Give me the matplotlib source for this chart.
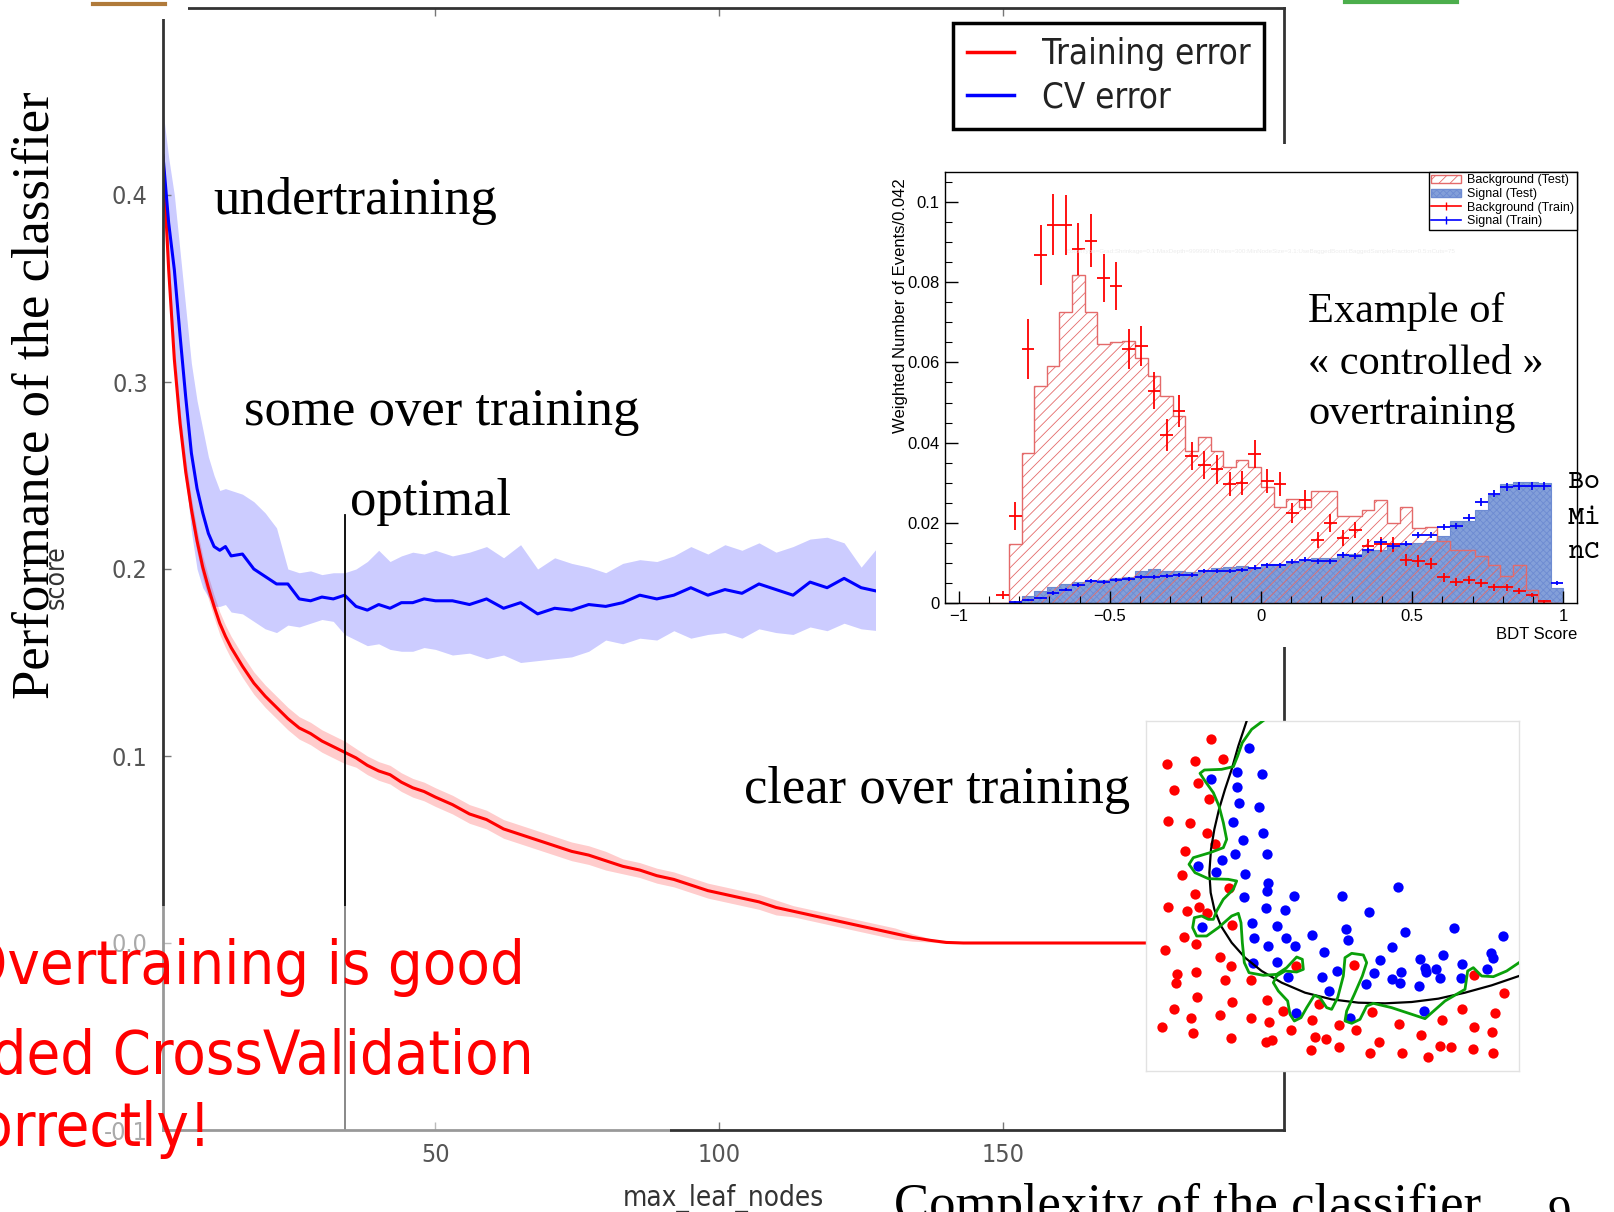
import numpy as np
import matplotlib
matplotlib.use("Agg")
import matplotlib.pyplot as plt
from matplotlib.patches import Rectangle, Patch
from matplotlib.lines import Line2D
from matplotlib.ticker import MultipleLocator

# learning curve: error vs max_leaf_nodes
nodes = [2, 3, 4, 5, 6, 7, 8, 9, 10, 11, 12, 13, 14,
         16, 18, 20, 22, 24, 26, 28, 30, 32, 34, 36, 38, 40, 42, 44, 46, 48, 50,
         53, 56, 59, 62, 65, 68, 71, 74, 77, 80, 83, 86, 89, 92, 95, 98, 101, 104,
         107, 110, 113, 116, 119, 122, 125, 128, 131,
         134, 137, 140, 143, 146,
         150, 155, 160, 165, 170, 175, 180, 185, 190, 195, 200]
train_err = [0.420, 0.360, 0.312, 0.278, 0.252, 0.232, 0.215, 0.201, 0.190, 0.180, 0.171, 0.164, 0.158,
             0.148, 0.139, 0.132, 0.126, 0.120, 0.115, 0.112, 0.108, 0.105, 0.102, 0.099, 0.095, 0.092,
             0.090, 0.086, 0.083, 0.081, 0.078,
             0.074, 0.069, 0.066, 0.061, 0.058, 0.055, 0.052, 0.049, 0.047, 0.044, 0.041, 0.039, 0.036,
             0.034, 0.031, 0.028, 0.026, 0.024, 0.022, 0.019, 0.017, 0.015, 0.013, 0.011, 0.009, 0.007, 0.005,
             0.003, 0.0015, 0.0003, 0.0, 0.0,
             0, 0, 0, 0, 0, 0, 0, 0, 0, 0, 0]
train_std = [0.010, 0.009, 0.008, 0.007, 0.007, 0.006, 0.006, 0.006, 0.006, 0.006, 0.006, 0.006, 0.006,
             0.006, 0.006, 0.006, 0.006, 0.006, 0.006, 0.006, 0.006, 0.006, 0.006, 0.005, 0.005, 0.005,
             0.005, 0.005, 0.005, 0.005, 0.005,
             0.005, 0.005, 0.005, 0.005, 0.005, 0.005, 0.005, 0.005, 0.005, 0.005, 0.004, 0.004, 0.004,
             0.004, 0.004, 0.004, 0.004, 0.004, 0.004, 0.004, 0.003, 0.003, 0.003, 0.003, 0.003, 0.003, 0.003,
             0.002, 0.001, 0.0005, 0, 0,
             0, 0, 0, 0, 0, 0, 0, 0, 0, 0, 0]
cv_err = [0.421, 0.385, 0.360, 0.325, 0.292, 0.262, 0.243, 0.230, 0.219, 0.212, 0.210, 0.212, 0.207,
          0.208, 0.200, 0.196, 0.192, 0.192, 0.184, 0.183, 0.185, 0.184, 0.186, 0.180, 0.178, 0.181,
          0.179, 0.182, 0.182, 0.184, 0.183,
          0.183, 0.181, 0.184, 0.179, 0.182, 0.176, 0.179, 0.178, 0.181, 0.180, 0.182, 0.186, 0.184,
          0.186, 0.190, 0.186, 0.189, 0.187, 0.192, 0.189, 0.186, 0.193, 0.190, 0.195, 0.190, 0.188, 0.192]
cv_hi = [0.445, 0.420, 0.400, 0.370, 0.340, 0.310, 0.290, 0.275, 0.260, 0.250, 0.242, 0.243, 0.242,
         0.240, 0.236, 0.230, 0.222, 0.200, 0.198, 0.199, 0.197, 0.198, 0.198, 0.200, 0.204, 0.210,
         0.204, 0.207, 0.209, 0.208, 0.210,
         0.207, 0.209, 0.212, 0.206, 0.213, 0.200, 0.206, 0.203, 0.201, 0.198, 0.203, 0.205, 0.204,
         0.207, 0.212, 0.208, 0.213, 0.210, 0.214, 0.209, 0.212, 0.216, 0.217, 0.214, 0.201, 0.212, 0.215]
cv_lo = [0.400, 0.350, 0.320, 0.280, 0.250, 0.220, 0.200, 0.190, 0.185, 0.180, 0.180, 0.181, 0.177,
         0.176, 0.172, 0.168, 0.166, 0.170, 0.169, 0.171, 0.173, 0.172, 0.165, 0.162, 0.159, 0.160,
         0.157, 0.156, 0.156, 0.158, 0.157,
         0.154, 0.155, 0.152, 0.154, 0.150, 0.151, 0.152, 0.153, 0.156, 0.162, 0.160, 0.163, 0.162,
         0.167, 0.163, 0.165, 0.166, 0.163, 0.168, 0.166, 0.165, 0.169, 0.167, 0.171, 0.168, 0.167, 0.169]
optimal_nodes = 34

# BDT score, 48 bins between -1 and 1
bkg_test = [0, 0, 0, 0, 0.0146, 0.0375, 0.054, 0.059, 0.0727, 0.0818, 0.0725, 0.0646, 0.0652, 0.0654,
            0.061, 0.0567, 0.0517, 0.0467, 0.038, 0.0414, 0.038, 0.034, 0.0356, 0.034, 0.029, 0.024,
            0.026, 0.024, 0.028, 0.028, 0.0217, 0.0218, 0.0233, 0.0258, 0.020, 0.024, 0.0187, 0.019,
            0.0154, 0.0133, 0.0133, 0.0117, 0.0096, 0.0068, 0.0096, 0.0033, 0.0003, 0.0]
sig_test = [0, 0, 0, 0, 0.0003, 0.0017, 0.003, 0.004, 0.0048, 0.0053, 0.0058, 0.0058, 0.0063, 0.0064,
            0.0081, 0.0086, 0.0079, 0.0079, 0.0078, 0.0083, 0.0088, 0.0089, 0.0092, 0.0088, 0.0098,
            0.0098, 0.0100, 0.0108, 0.0113, 0.0113, 0.0121, 0.0121, 0.0129, 0.0133, 0.0142, 0.0146,
            0.0150, 0.0154, 0.0167, 0.0204, 0.0204, 0.0233, 0.027, 0.0296, 0.0302, 0.0302, 0.030, 0.0037]
bkg_train = [0, 0, 0, 0.002, 0.0217, 0.0633, 0.0867, 0.0944, 0.0942, 0.0883, 0.0904, 0.081, 0.079,
             0.0633, 0.064, 0.053, 0.042, 0.048, 0.0367, 0.0344, 0.0333, 0.0296, 0.030, 0.0372, 0.0304,
             0.0296, 0.0225, 0.0256, 0.0158, 0.020, 0.0163, 0.0183, 0.0142, 0.0146, 0.0146, 0.0108,
             0.0104, 0.0098, 0.0064, 0.0053, 0.0058, 0.005, 0.0039, 0.0039, 0.003, 0.002, 0.0004, 0]
bkg_train_err = [0, 0, 0, 0.001, 0.0035, 0.0075, 0.0075, 0.0075, 0.0075, 0.0065, 0.0065, 0.006, 0.006,
                 0.005, 0.005, 0.0045, 0.004, 0.004, 0.0035, 0.0035, 0.0035, 0.003, 0.003, 0.0035, 0.003,
                 0.003, 0.0025, 0.0025, 0.002, 0.0022, 0.002, 0.002, 0.0018, 0.0018, 0.0018, 0.0015,
                 0.0015, 0.0014, 0.0011, 0.001, 0.001, 0.001, 0.0009, 0.0009, 0.0008, 0.0006, 0.0003, 0]
sig_train = [0, 0, 0, 0, 0.0002, 0.0008, 0.0013, 0.0025, 0.0033, 0.0045, 0.0055, 0.0052, 0.0058, 0.006,
             0.0066, 0.0066, 0.0067, 0.0071, 0.0071, 0.0079, 0.0079, 0.0081, 0.0083, 0.0088, 0.0094,
             0.0094, 0.0103, 0.0108, 0.0104, 0.0104, 0.012, 0.0117, 0.0131, 0.0152, 0.0142, 0.0148,
             0.0169, 0.0169, 0.019, 0.0192, 0.0213, 0.0252, 0.0273, 0.029, 0.0292, 0.0292, 0.0292, 0.005]
sig_train_err = [0, 0, 0, 0, 0.0002, 0.0003, 0.0003, 0.0004, 0.0004, 0.0005, 0.0005, 0.0005, 0.0005,
                 0.0005, 0.0005, 0.0005, 0.0005, 0.0005, 0.0005, 0.0005, 0.0005, 0.0005, 0.0005, 0.0006,
                 0.0006, 0.0006, 0.0006, 0.0006, 0.0006, 0.0006, 0.0007, 0.0007, 0.0007, 0.0007, 0.0007,
                 0.0007, 0.0008, 0.0008, 0.0008, 0.0008, 0.0008, 0.0009, 0.0009, 0.0010, 0.0010, 0.0010,
                 0.0010, 0.0005]

# toy 2D sample (sketch units, y downwards)
red_dots = [(337, 148), (206, 225), (289, 215), (374, 210), (298, 282), (226, 303), (332, 330), (209, 394),
            (275, 401), (326, 432), (350, 463), (261, 486), (252, 556), (392, 596), (289, 613), (209, 654),
            (265, 666), (302, 653), (327, 672), (402, 706), (257, 742), (293, 765), (199, 782), (365, 803),
            (398, 829), (236, 854), (292, 849), (232, 882), (379, 871), (458, 871), (592, 831), (767, 827),
            (295, 924), (402, 937), (506, 933), (227, 959), (277, 985), (366, 977), (458, 987), (511, 998),
            (553, 965), (662, 945), (640, 993), (190, 1013), (284, 1030), (398, 1046), (502, 1058),
            (521, 1052), (577, 1021), (650, 1042), (683, 1048), (722, 1008), (773, 1021), (820, 968),
            (903, 1005), (969, 1037), (1032, 991), (1092, 960), (1127, 1012), (1191, 972), (1216, 911),
            (1128, 857), (1182, 1029), (639, 1082), (721, 1074), (815, 1090), (842, 1057), (911, 1090),
            (990, 1102), (1025, 1070), (1058, 1073), (1125, 1078), (1183, 1090)]
blue_dots = [(452, 175), (416, 248), (492, 255), (337, 268), (415, 294), (421, 342), (482, 353), (404, 397),
             (493, 430), (434, 452), (409, 495), (507, 494), (372, 512), (298, 530), (354, 549), (440, 554),
             (510, 581), (507, 606), (586, 619), (730, 621), (898, 593), (436, 624), (502, 656), (560, 663),
             (811, 669), (460, 700), (537, 710), (742, 719), (920, 727), (1068, 716), (1214, 740), (310, 712),
             (468, 745), (562, 745), (750, 751), (641, 737), (508, 770), (591, 770), (676, 787), (880, 773),
             (463, 822), (535, 819), (717, 845), (845, 813), (966, 810), (1034, 798), (1090, 823),
             (1178, 791), (1185, 807), (1167, 838), (568, 864), (671, 862), (692, 904), (803, 884),
             (826, 851), (880, 868), (906, 880), (908, 847), (963, 889), (981, 836), (982, 848), (1013, 840),
             (1025, 866), (1088, 866), (592, 970), (756, 987), (977, 964)]
smooth_cut = [(445, 95), (420, 170), (400, 240), (380, 300), (362, 360), (348, 420), (338, 480), (333, 550),
              (337, 610), (348, 660), (368, 710), (400, 760), (440, 805), (490, 845), (550, 880), (620, 910),
              (700, 930), (780, 940), (860, 942), (940, 938), (1020, 928), (1100, 910), (1180, 888), (1262, 860)]
overfit_cut = [(500, 90), (460, 120), (432, 160), (418, 200), (405, 232), (370, 240), (318, 242), (305, 252),
               (320, 275), (345, 310), (362, 350), (375, 400), (385, 450), (375, 475), (335, 490), (285, 505),
               (272, 525), (290, 550), (330, 568), (390, 570), (415, 575), (405, 600), (375, 630), (355, 665),
               (345, 690), (330, 690), (310, 680), (288, 685), (283, 715), (295, 740), (325, 740), (360, 715),
               (400, 680), (420, 672), (428, 700), (432, 760), (438, 820), (452, 850), (495, 858), (535, 855),
               (565, 835), (595, 803), (612, 810), (615, 840), (595, 848), (560, 845), (535, 860), (525, 880),
               (540, 905), (568, 935), (575, 975), (588, 995), (608, 985), (625, 955), (648, 918), (665, 925),
               (685, 955), (700, 960), (718, 925), (735, 860), (740, 805), (760, 792), (795, 797), (805, 820),
               (792, 860), (768, 915), (745, 965), (740, 995), (760, 1002), (785, 990), (805, 950), (825, 942),
               (880, 955), (980, 988), (1040, 935), (1100, 900), (1108, 845), (1125, 835), (1150, 860),
               (1185, 862), (1225, 845), (1262, 820)]

W, H = 1615, 1212


def fx(px):
    return px / W


def fy(py):
    return 1 - py / H


SERIF = "Liberation Serif"
COND = "DejaVu Sans"   # used with stretch="condensed"
SANS = "Liberation Sans"
MONO = ["Courier Prime", "Liberation Mono"]

plt.rcParams["hatch.linewidth"] = 0.6
fig = plt.figure(figsize=(W / 100, H / 100), dpi=100)

# main learning-curve panel
ax = fig.add_axes([fx(163), fy(1130), 1121 / W, 1122 / H])
tr = np.array(train_err)
ts = np.array(train_std)
ax.fill_between(nodes, tr - ts, tr + ts, color="red", alpha=0.2, lw=0)
ax.plot(nodes, tr, color="red", lw=2.2)
cvx = nodes[:len(cv_err)]
ax.fill_between(cvx, cv_lo, cv_hi, color="blue", alpha=0.2, lw=0)
ax.plot(cvx, cv_err, color="blue", lw=2.2)
ax.plot([optimal_nodes, optimal_nodes], [0.229, -0.1], color="black", lw=1.3, clip_on=False)

ax.set_xlim(2, 199.5)
ax.set_ylim(-0.1, 0.5)
ax.set_xticks([50, 100, 150])
ax.set_yticks([-0.1, 0.0, 0.1, 0.2, 0.3, 0.4, 0.5])
ax.set_yticklabels(["-0.1", "0.0", "0.1", "0.2", "0.3", "0.4", "0.5"])
ax.tick_params(direction="in", top=True, right=True, length=6, width=1, color="#777777",
               labelcolor="#555555", labelsize=18)
ax.tick_params(axis="y", pad=11)
ax.tick_params(axis="x", pad=9)
for t in ax.get_xticklabels() + ax.get_yticklabels():
    t.set_fontfamily(COND)
    t.set_fontstretch("condensed")
for s in ax.spines.values():
    s.set_color("#333333")
    s.set_linewidth(2)
ax.set_xlabel("max_leaf_nodes", family=COND, stretch="condensed", size=20, color="#333333")
ax.xaxis.set_label_coords(0.5, -0.048)
ax.set_ylabel("score", family=COND, stretch="condensed", size=19, color="#333333")
ax.yaxis.set_label_coords(-0.083, 0.493)

leg = ax.legend(handles=[Line2D([], [], color="red", lw=2.5), Line2D([], [], color="blue", lw=2.5)],
                labels=["Training error", "CV error"], loc="upper left",
                bbox_to_anchor=(fx(953), fy(23)), bbox_transform=fig.transFigure,
                prop={"family": COND, "stretch": "condensed", "size": 25}, labelcolor="#222222",
                fancybox=False, framealpha=1, edgecolor="black", borderpad=0.4, handlelength=1.35,
                handletextpad=0.8, labelspacing=0.28, borderaxespad=0)
leg.get_frame().set_linewidth(2.5)

# white area behind the TMVA picture
fig.add_artist(Rectangle((fx(876), fy(647)), (W - 876) / W, (647 - 144) / H,
                         transform=fig.transFigure, facecolor="white", edgecolor="none", zorder=1))
# faded box behind the red statement
fig.add_artist(Rectangle((0, fy(1140)), fx(670), (1140 - 906) / H, transform=fig.transFigure,
                         facecolor="white", alpha=0.5, edgecolor="none", zorder=1))
# slide debris at the top
fig.add_artist(Rectangle((fx(100), fy(19)), 88 / W, 19 / H, transform=fig.transFigure,
                         facecolor="white", edgecolor="none", zorder=1))
fig.add_artist(Line2D([fx(93), fx(165)], [fy(4), fy(4)], color="#b07a3a", lw=3, zorder=2))
fig.add_artist(Line2D([fx(1345), fx(1457)], [fy(1.5), fy(1.5)], color="#4cae4c", lw=3, zorder=2))

# TMVA overtraining check
edges = np.linspace(-1, 1, len(bkg_test) + 1)
centers = 0.5 * (edges[1:] + edges[:-1])
half = 0.5 * (edges[1] - edges[0])
ax2 = fig.add_axes([fx(945), fy(603), 632 / W, 431 / H], zorder=2)
ax2.stairs(sig_test, edges, fill=True, facecolor="#839fd9", edgecolor="#6d8bd2", hatch="xxxxx", lw=0.8)
ax2.stairs(bkg_test, edges, fill=True, facecolor="none", edgecolor="#e46a6a", hatch="///", lw=1.0)
bt = np.array(bkg_train)
m = bt > 0
ax2.errorbar(centers[m], bt[m], yerr=np.array(bkg_train_err)[m], xerr=half, fmt="none",
             ecolor="red", elinewidth=1.3)
st = np.array(sig_train)
m = st > 0
ax2.errorbar(centers[m], st[m], yerr=np.array(sig_train_err)[m], xerr=half, fmt="none",
             ecolor="blue", elinewidth=1.3)
ax2.set_xlim(-1.045, 1.045)
ax2.set_ylim(0, 0.1075)
ax2.set_xticks([-1, -0.5, 0, 0.5, 1])
ax2.set_xticklabels(["\u22121", "\u22120.5", "0", "0.5", "1"])
ax2.set_yticks([0, 0.02, 0.04, 0.06, 0.08, 0.1])
ax2.set_yticklabels(["0", "0.02", "0.04", "0.06", "0.08", "0.1"])
ax2.xaxis.set_minor_locator(MultipleLocator(0.1))
ax2.yaxis.set_minor_locator(MultipleLocator(0.005))
ax2.tick_params(which="major", direction="in", length=9, width=1, labelsize=12, pad=4)
ax2.tick_params(which="minor", direction="in", length=5, width=0.8)
for t in ax2.get_xticklabels() + ax2.get_yticklabels():
    t.set_fontfamily(SANS)
ax2.set_ylabel("Weighted Number of Events/0.042", family=SANS, size=12)
ax2.yaxis.set_label_coords(-0.059, 0.69)
ax2.set_xlabel("BDT Score", family=SANS, size=12)
ax2.xaxis.set_label_coords(1.0, -0.055)
ax2.xaxis.label.set_ha("right")
for s in ax2.spines.values():
    s.set_linewidth(1)
tleg = ax2.legend(handles=[Patch(facecolor="none", edgecolor="#e46a6a", hatch="///"),
                           Patch(facecolor="#839fd9", edgecolor="#6d8bd2", hatch="xxxxx"),
                           Line2D([], [], color="red", marker="|", lw=1.2),
                           Line2D([], [], color="blue", marker="|", lw=1.2)],
                  labels=["Background (Test)", "Signal (Test)", "Background (Train)", "Signal (Train)"],
                  loc="upper right", bbox_to_anchor=(1, 1), borderaxespad=0, fancybox=False,
                  framealpha=1, edgecolor="black", prop={"family": SANS, "size": 9},
                  borderpad=0.2, labelspacing=0.12, handlelength=2.4, handleheight=0.6,
                  handletextpad=0.5)
tleg.get_frame().set_linewidth(1)
ax2.text(0.5, 0.815, "BoostType=Grad:Shrinkage=0.1:MaxDepth=999999:NTrees=300:MinNodeSize=3.1:"
         "UseBaggedBoost:BaggedSampleFraction=0.5:nCuts=75", transform=ax2.transAxes,
         ha="center", va="center", size=4.5, color="#ececec", family=SANS)
for label, py in [("Bo", 482), ("Mi", 517), ("nC", 551)]:
    fig.text(fx(1568), fy(py), label, family=MONO, size=20, va="center", zorder=5)

# toy classification picture
ax3 = fig.add_axes([fx(1146), fy(1071), 373 / W, 350 / H], zorder=2)
rx, ry = zip(*red_dots)
bx, by = zip(*blue_dots)
ax3.scatter(rx, ry, s=55, color="red", lw=0, zorder=3)
ax3.scatter(bx, by, s=55, color="blue", lw=0, zorder=3)
cx, cy = zip(*smooth_cut)
ax3.plot(cx, cy, color="black", lw=1.6, zorder=4)
gx, gy = zip(*overfit_cut)
ax3.plot(gx, gy, color="#0aa00a", lw=2.0, zorder=5)
ax3.set_xlim(143, 1262)
ax3.set_ylim(1145, 95)
ax3.set_xticks([])
ax3.set_yticks([])
for s in ax3.spines.values():
    s.set_color("#e2e2e2")
    s.set_linewidth(1)

# slide annotations
fig.text(fx(213), fy(214), "undertraining", family=SERIF, size=38, va="baseline")
fig.text(fx(244), fy(425), "some over training", family=SERIF, size=38, va="baseline")
fig.text(fx(350), fy(515), "optimal", family=SERIF, size=38, va="baseline")
fig.text(fx(744), fy(803), "clear over training", family=SERIF, size=38, va="baseline")
fig.text(fx(1308), fy(322), "Example of", family=SERIF, size=30.5, va="baseline", zorder=5)
fig.text(fx(1308), fy(374), "\u00ab controlled \u00bb", family=SERIF, size=30.5, va="baseline", zorder=5)
fig.text(fx(1308), fy(424), "overtraining", family=SERIF, size=30.5, va="baseline", zorder=5)
fig.text(fx(36), fy(395), "Performance of the classifier", family=SERIF, size=38, rotation=90,
         ha="center", va="center")
fig.text(fx(894), fy(1220), "Complexity of the classifier", family=SERIF, size=38, va="baseline")
fig.text(fx(1548), fy(1228), "9", family=SERIF, size=34, va="baseline")

for line, right, base in [("Overtraining is good", 525, 984),
                          ("Provided CrossValidation", 534, 1074),
                          ("correctly!", 211, 1146)]:
    fig.text(fx(right), fy(base), line, family=COND, stretch="condensed", size=44, color="red",
             ha="right", va="baseline", zorder=5)

fig.savefig("out.png", dpi=100, facecolor="white")
